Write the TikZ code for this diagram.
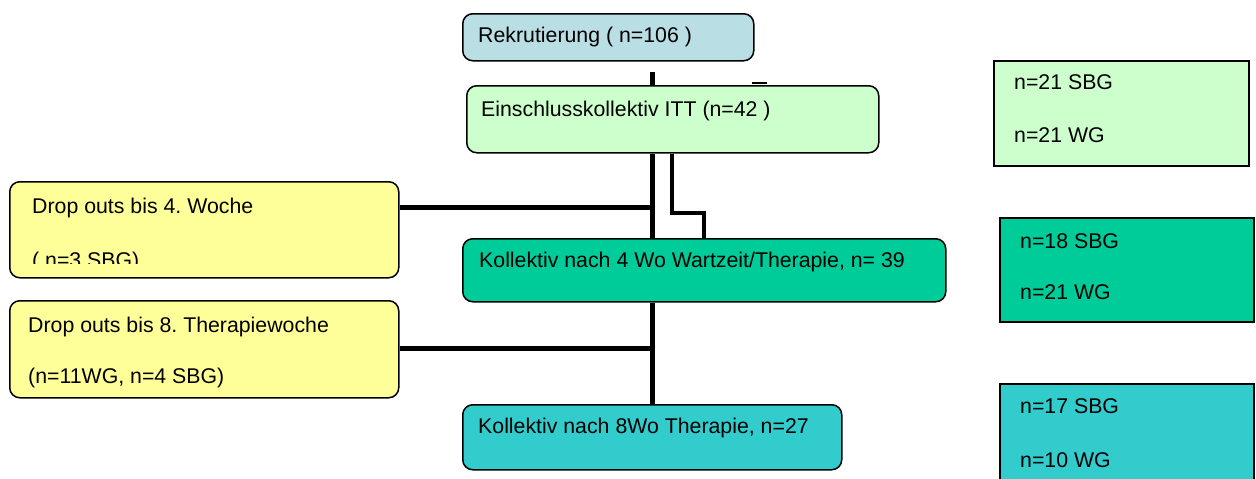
\documentclass[tikz,border=0pt]{standalone}
\usepackage{fontspec}
\setmainfont{Liberation Sans}
\frenchspacing
\begin{document}
\begin{tikzpicture}[x=1pt,y=-1pt,
  rbox/.style={draw=black, line width=1.5pt, rounded corners=10pt, anchor=north west, inner sep=0pt},
  sbox/.style={draw=black, line width=1.5pt, anchor=north west, inner sep=0pt},
  txt/.style={anchor=base west, inner sep=0pt, font=\fontsize{21.3}{25}\selectfont},
  conn/.style={draw=black, line width=5pt},
  thinconn/.style={draw=black, line width=2pt}]
\definecolor{cRek}{RGB}{185,222,227}
\definecolor{cGreen}{RGB}{204,255,204}
\definecolor{cYellow}{RGB}{255,255,153}
\definecolor{cTeal}{RGB}{0,204,153}
\definecolor{cCyan}{RGB}{51,204,204}
\useasboundingbox (0,0) rectangle (1256,479);

\coordinate (v1) at (652,72);
\coordinate (h1) at (752,83);
\coordinate (h1e) at (767,83);

% boxes
\node[rbox, fill=cRek, minimum width=291pt, minimum height=47pt] (rek) at (462,13) {};
\node[rbox, fill=cGreen, minimum width=412pt, minimum height=67pt] (ein) at (466,85) {};
\node[rbox, fill=cYellow, minimum width=389pt, minimum height=96pt] (d4) at (9,181) {};
\node[rbox, fill=cYellow, minimum width=389pt, minimum height=97pt] (d8) at (9,300) {};
\node[rbox, fill=cTeal, minimum width=483pt, minimum height=63pt] (k4) at (462,238) {};
\node[rbox, fill=cCyan, minimum width=379pt, minimum height=65pt] (k8) at (462,404) {};
\node[sbox, fill=cGreen, minimum width=255pt, minimum height=105pt] (r1) at (993,60) {};
\node[sbox, fill=cTeal, minimum width=254pt, minimum height=104pt] (r2) at (999,217) {};
\node[sbox, fill=cCyan, minimum width=254pt, minimum height=110pt] (r3) at (999,383) {};

% texts
\node[txt] (trek) at (478,42) {Rekrutierung ( n=106 )};
\node[txt] (tein) at (481,116) {Einschlusskollektiv ITT (n=42 )};
\node[txt] (td4a) at (32,213) {Drop outs bis 4. Woche};
\begin{scope}
\clip (9,181) rectangle (398,263);
\node[txt] (td4b) at (32,267) {( n=3 SBG)};
\end{scope}
\node[txt] (td8a) at (28,332) {Drop outs bis 8. Therapiewoche};
\node[txt] (td8b) at (28,383) {(n=11WG, n=4 SBG)};
\node[txt] (tk4) at (479,267) {Kollektiv nach 4 Wo Wartzeit/Therapie, n= 39};
\node[txt] (tk8) at (478,433) {Kollektiv nach 8Wo Therapie, n=27};
\node[txt] (tr1a) at (1014,89) {n=21 SBG};
\node[txt] (tr1b) at (1014,142) {n=21 WG};
\node[txt] (tr2a) at (1020,248) {n=18 SBG};
\node[txt] (tr2b) at (1020,299) {n=21 WG};
\node[txt] (tr3a) at (1020,413) {n=17 SBG};
\node[txt] (tr3b) at (1020,467) {n=10 WG};

% connectors
\coordinate (m1) at (652,207);
\coordinate (m2) at (652,348);
\coordinate (b1) at (672,213);
\coordinate (b2) at (704,213);
\draw[conn] (v1) -- (v1 |- ein.north);
\draw[thinconn] (h1) -- (h1e);
\draw[conn] (ein.south -| v1) -- (k4.north -| v1);
\draw[conn, line width=4.5pt] (ein.south -| b1) -- (b1) -- (b2) -- (k4.north -| b2);
\draw[conn] (d4.east |- m1) -- (m1);
\draw[conn] (k4.south -| v1) -- (k8.north -| v1);
\draw[conn] (d8.east |- m2) -- (m2);
\end{tikzpicture}
\end{document}
